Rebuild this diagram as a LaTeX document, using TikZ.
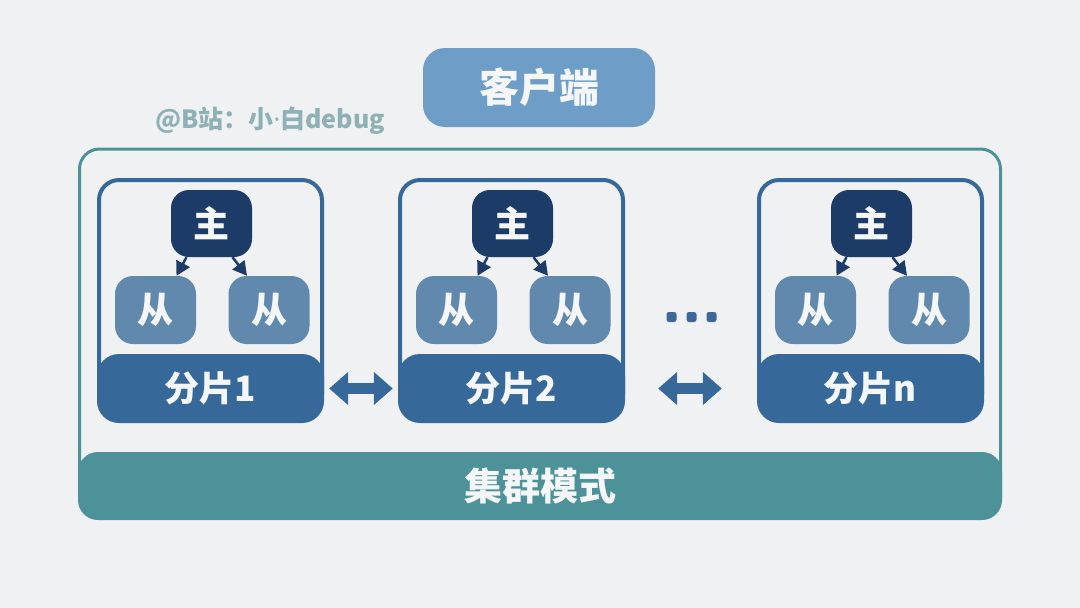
\documentclass[tikz,border=0pt]{standalone}
\usepackage{fontspec}
\newfontfamily\cjk{Noto Sans CJK SC}
\newfontfamily\lat{Noto Sans}
\usetikzlibrary{arrows.meta}
\definecolor{bgc}{HTML}{EFF1F3}
\definecolor{clientc}{HTML}{6E9EC8}
\definecolor{wmc}{HTML}{8DB1B5}
\definecolor{tealc}{HTML}{4D9299}
\definecolor{shardc}{HTML}{36699A}
\definecolor{masterc}{HTML}{1C3C67}
\definecolor{slavec}{HTML}{6189AE}
\definecolor{dotc}{HTML}{3E6899}
\definecolor{txtc}{HTML}{F4F6F8}
\begin{document}
\begin{tikzpicture}[x=1pt,y=-1pt,
  lbl/.style={text=txtc, inner sep=0, font=\cjk\bfseries\fontsize{#1}{#1}\selectfont},
  client/.style={lbl=40, fill=clientc, rounded corners=22pt, minimum width=232pt, minimum height=79pt},
  wm/.style={inner sep=0, text=wmc, font=\cjk\bfseries\fontsize{25}{25}\selectfont},
  cframe/.style={draw=tealc, line width=3pt, rounded corners=20pt, minimum width=921pt, minimum height=369pt, inner sep=0},
  cband/.style={lbl=38, fill=tealc, rounded corners=20pt, minimum width=924pt, minimum height=68pt},
  sframe/.style={draw=shardc, line width=4pt, rounded corners=20pt, minimum width=223pt, minimum height=235pt, inner sep=0},
  sband/.style={lbl=35, fill=shardc, rounded corners=22pt, minimum width=227pt, minimum height=69pt},
  master/.style={lbl=36, fill=masterc, rounded corners=18pt, minimum width=81pt, minimum height=67pt},
  slave/.style={lbl=36, fill=slavec, rounded corners=18pt, minimum width=81pt, minimum height=68pt},
  arr/.style={draw=masterc, line width=2.5pt, -{Triangle[length=14pt,width=15pt]}},
  darr/.style={draw=shardc, line width=11pt, {Triangle[length=19pt,width=32pt]}-{Triangle[length=19pt,width=32pt]}},
  dotbox/.style={fill=dotc, minimum size=10pt, rounded corners=2.5pt, inner sep=0}
]
\fill[bgc] (0,0) rectangle (1080,608);
\node[client] (client) at (539,87.5) {客户端};
\node[wm] (wm) at (270,121) {@B站：小{\lat\bfseries ·}白debug};
\node[cframe] (cluster) at (540,333.5) {};
\node[cband] (cb) at (540,486) {集群模式};
\foreach \i/\x/\t in {1/97/1, 2/398/2, 3/757/n}{
  \node[sframe] (f\i) at (\x+113.5,297.5) {};
  \node[sband] (b\i) at (\x+113.5,388.5) {分片\t};
  \node[master] (m\i) at (\x+114.5,223.5) {主};
  \node[slave] (sa\i) at (\x+58.5,310) {从};
  \node[slave] (sb\i) at (\x+172,310) {从};
  \draw[arr] ([xshift=-25pt]m\i.south) -- ([xshift=21pt]sa\i.north);
  \draw[arr] ([xshift=21pt]m\i.south) -- ([xshift=-22pt]sb\i.north);
}
\draw[darr] ([xshift=5pt]b1.east) -- ([xshift=-5pt]b2.west);
\draw[darr] ([xshift=33pt]b2.east) -- ([xshift=-35pt]b3.west);
\foreach \k/\x in {1/671.5,2/691.5,3/711.5}
  \node[dotbox] (d\k) at (\x,317) {};
\end{tikzpicture}
\end{document}
